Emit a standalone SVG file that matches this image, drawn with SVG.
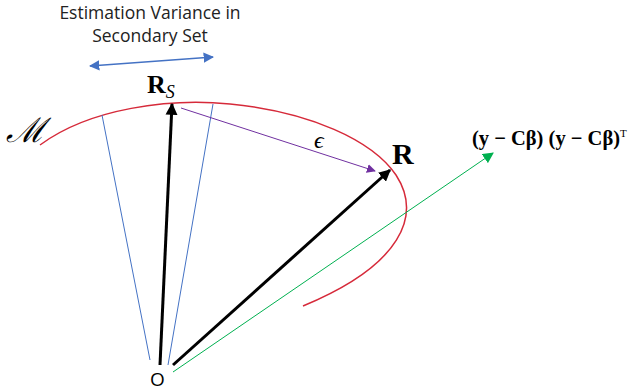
<svg xmlns="http://www.w3.org/2000/svg" width="636" height="391" viewBox="0 0 636 391">
<defs>
<marker id="ab" viewBox="0 0 10 10" refX="9" refY="5" markerWidth="4" markerHeight="4" orient="auto-start-reverse" markerUnits="strokeWidth"><path d="M0,0 L10,5 L0,10 z" fill="#000"/></marker>
<marker id="ap" viewBox="0 0 10 10" refX="9" refY="5" markerWidth="9" markerHeight="9" orient="auto" markerUnits="strokeWidth"><path d="M0,0 L10,5 L0,10 z" fill="#7030a0"/></marker>
<marker id="ag" viewBox="0 0 10 10" refX="9" refY="5" markerWidth="11" markerHeight="11" orient="auto" markerUnits="strokeWidth"><path d="M0,0 L10,5 L0,10 z" fill="#00b050"/></marker>
<marker id="abl" viewBox="0 0 10 10" refX="9" refY="5" markerWidth="8" markerHeight="8" orient="auto-start-reverse" markerUnits="strokeWidth"><path d="M0,0 L10,5 L0,10 z" fill="#4472c4"/></marker>
</defs>
<style>
.lbl{font-family:"Open Sans","Liberation Sans",sans-serif;font-size:17.5px;fill:#222}
.math{font-family:"Liberation Serif","DejaVu Serif",serif;fill:#000}
</style>
<rect width="636" height="391" fill="#fff"/>
<g id="manifold">
<path d="M40,145 C 90,108 170,98 230,104 C 310,112 372,140 396,175 C 422,215 402,265 303,306" fill="none" stroke="#d62a3a" stroke-width="1.5"/>
</g>
<g id="connectors">
<line x1="150" y1="360" x2="102" y2="115" stroke="#4472c4" stroke-width="1"/>
<line x1="168" y1="365" x2="213" y2="104" stroke="#4472c4" stroke-width="1"/>
<line x1="90" y1="66" x2="213" y2="57" stroke="#4472c4" stroke-width="1.3" marker-start="url(#abl)" marker-end="url(#abl)"/>
<line x1="160" y1="365" x2="172" y2="104" stroke="#000" stroke-width="3" marker-end="url(#ab)"/>
<line x1="173" y1="365" x2="390" y2="170" stroke="#000" stroke-width="3" marker-end="url(#ab)"/>
<line x1="173" y1="372" x2="493" y2="153" stroke="#00b050" stroke-width="1" marker-end="url(#ag)"/>
<line x1="181" y1="108" x2="375" y2="171" stroke="#7030a0" stroke-width="1" marker-end="url(#ap)"/>
</g>
<g id="title">
<text class="lbl" x="150" y="19" text-anchor="middle">Estimation Variance in</text>
<text class="lbl" x="150" y="42" text-anchor="middle">Secondary Set</text>
</g>
<g id="labels">
<text class="math" x="147" y="93" font-size="26" font-weight="bold">R<tspan font-size="18" font-style="italic" font-weight="normal" dy="5">S</tspan></text>
<text class="math" x="6" y="142" font-size="34" font-style="italic">ℳ</text>
<text class="math" x="314" y="148" font-size="24" font-style="italic">ϵ</text>
<text class="math" x="392" y="164" font-size="30" font-weight="bold">R</text>
<text class="math" x="472" y="145" font-size="20.5" font-weight="bold">(y − Cβ) (y − Cβ)<tspan font-size="11" dy="-8" font-weight="normal">T</tspan></text>
<text x="150" y="386" font-family="'Open Sans','Liberation Sans',sans-serif" font-size="19" fill="#000">O</text>
</g>
</svg>
